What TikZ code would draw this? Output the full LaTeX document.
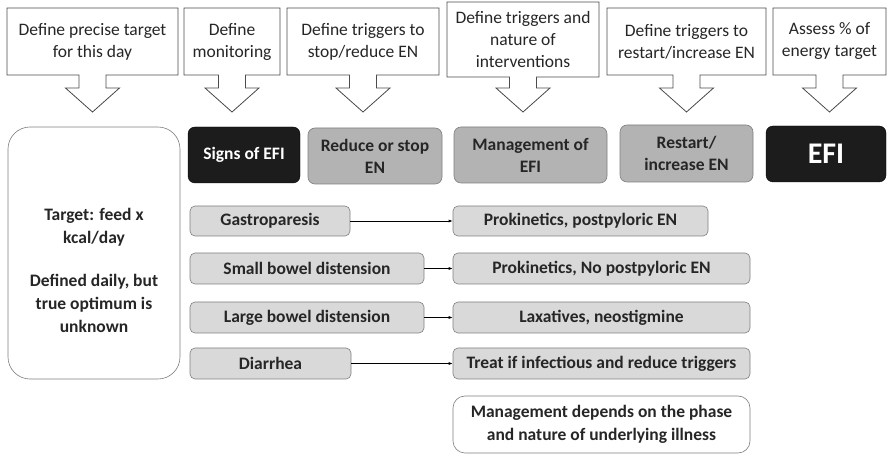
\documentclass[tikz,border=0pt]{standalone}
\usepackage{fontspec}
\setmainfont{Carlito}
\usetikzlibrary{calc,arrows.meta}
\definecolor{midgray}{HTML}{B3B3B3}
\definecolor{lightgray}{HTML}{D9D9D9}
\definecolor{edgegray}{HTML}{7F7F7F}
\definecolor{nearblack}{HTML}{1C1C1C}
\tikzset{
  cotext/.style={align=center, font=\fontsize{17.5}{22}\selectfont, text=black!85, inner sep=0pt},
  coline/.style={draw=black!70, line width=0.8pt, fill=white, line join=miter},
  blackbox/.style={draw=black, fill=nearblack, rounded corners=7pt, text=white, align=center, font=\bfseries\fontsize{17.5}{22}\selectfont, inner sep=0pt},
  midbox/.style={draw=edgegray, fill=midgray, rounded corners=7pt, text=black!85, align=center, font=\bfseries\fontsize{17.5}{22}\selectfont, inner sep=0pt, line width=0.6pt},
  rowbox/.style={draw=edgegray, fill=lightgray, rounded corners=5pt, text=black!85, align=center, font=\bfseries\fontsize{17.5}{22}\selectfont, inner sep=0pt, line width=0.6pt},
  whitebox/.style={draw=edgegray, fill=white, rounded corners=12pt, text=black!85, align=center, font=\bfseries\fontsize{17.5}{23}\selectfont, inner sep=0pt, line width=0.6pt},
  plaintext/.style={text=black!85, align=center, font=\bfseries\fontsize{17.5}{23}\selectfont, inner sep=0pt},
  conn/.style={draw=black, line width=0.7pt, -{Latex[length=4pt,width=3pt]}},
}
% \mycallout{name}{x1}{x2}{y1}{y2}{text}
\newcommand{\mycallout}[6]{%
  \pgfmathsetmacro{\cxa}{(#2+#3)/2}%
  \draw[coline] (#2,#4) -- (#3,#4) -- (#3,#5) -- (\cxa+13.5,#5) -- (\cxa+13.5,88) -- (\cxa+27,88) -- (\cxa,112) -- (\cxa-27,88) -- (\cxa-13.5,88) -- (\cxa-13.5,#5) -- (#2,#5) -- cycle;
  \node[cotext] (#1) at (\cxa,{(#4+#5)/2}) {#6};
}
% \mybox{style}{name}{x1}{x2}{y1}{y2}{text}
\newcommand{\mybox}[7]{%
  \node[#1, minimum width={(#4)-(#3)}, minimum height={(#6)-(#5)}] (#2) at ({(#3+#4)/2},{(#5+#6)/2}) {#7};
}
\begin{document}
\begin{tikzpicture}[x=1pt,y=-1pt]
\useasboundingbox (0,0) rectangle (887,454);
\mycallout{c1}{7}{178}{8}{75}{Define precise target\\for this day}
\mycallout{c2}{184}{280}{8}{75}{Define\\monitoring}
\mycallout{c3}{287}{439}{8}{75}{Define triggers to\\stop/reduce EN}
\mycallout{c4}{447}{599}{2}{77}{Define triggers and\\nature of\\interventions}
\mycallout{c5}{607}{766}{8}{75}{Define triggers to\\restart/increase EN}
\mycallout{c6}{773}{886}{8}{75}{Assess \% of\\energy target}

\mybox{whitebox, rounded corners=22pt}{target}{8}{180}{127}{379}{}
\node[plaintext] (targettext) at (94,270) {Target: feed x\\kcal/day\\[20pt]Defined daily, but\\true optimum is\\unknown};
\mybox{blackbox}{signs}{188}{300}{127}{183}{Signs of EFI}
\mybox{midbox}{reduce}{308}{442}{128}{184}{Reduce or stop\\EN}
\mybox{midbox}{manage}{454}{607}{127}{183}{Management of\\EFI}
\mybox{midbox}{restart}{620}{753}{125}{182}{Restart/\\increase EN}
\mybox{blackbox, font=\bfseries\fontsize{30}{32}\selectfont}{efi}{766}{886}{126}{182}{EFI}

\mybox{rowbox}{gastro}{190}{350}{206}{236}{Gastroparesis}
\mybox{rowbox}{small}{190}{424}{253}{284}{Small bowel distension}
\mybox{rowbox}{large}{190}{424}{302}{333}{Large bowel distension}
\mybox{rowbox}{diarr}{190}{351}{348}{379}{Diarrhea}

\mybox{rowbox}{prok1}{453}{708}{206}{236}{Prokinetics, postpyloric EN}
\mybox{rowbox}{prok2}{453}{750}{253}{284}{Prokinetics, No postpyloric EN}
\mybox{rowbox}{laxat}{453}{750}{302}{333}{Laxatives, neostigmine}
\mybox{rowbox}{treat}{453}{750}{348}{379}{Treat if infectious and reduce triggers}
\mybox{whitebox}{mdep}{453}{750}{396}{453}{Management depends on the phase\\and nature of underlying illness}

\draw[conn] (gastro) -- (prok1);
\draw[conn] (small) -- (prok2);
\draw[conn] (large) -- (laxat);
\draw[conn] (diarr) -- (treat);
\end{tikzpicture}
\end{document}
